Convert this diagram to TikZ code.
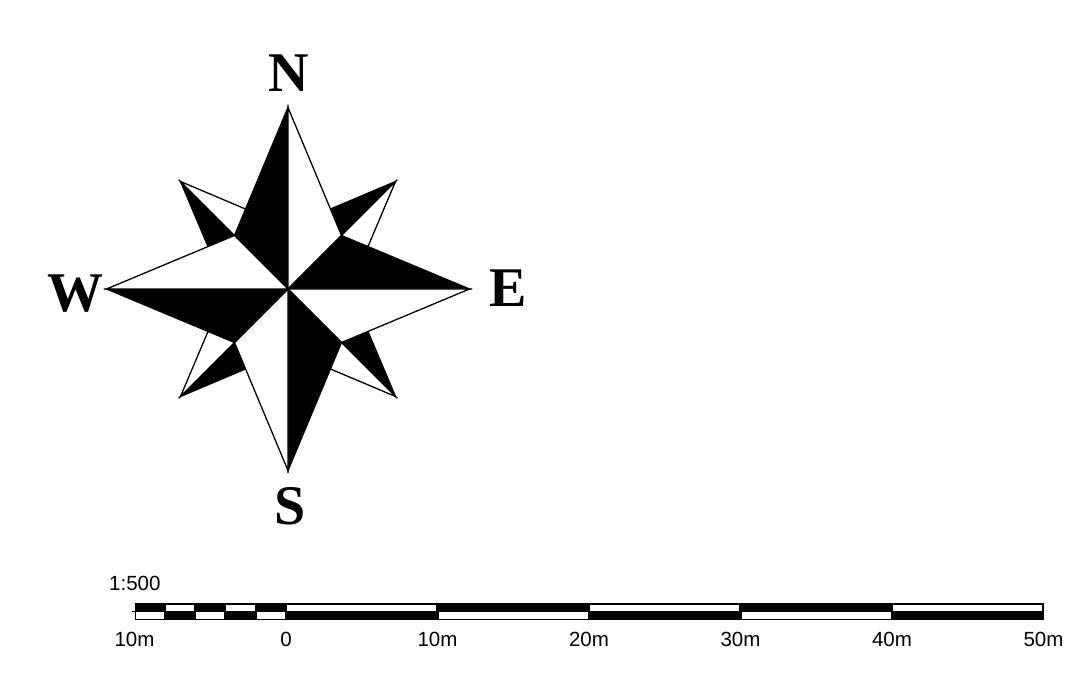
\documentclass[tikz,border=0pt]{standalone}
\usepackage{fontspec}
\setmainfont{Liberation Serif}
\newfontfamily\labsans{Liberation Sans}
\begin{document}
\begin{tikzpicture}[x=1pt,y=-1pt,
  blk/.style={fill=black,draw=black,line width=1.3pt,line join=miter},
  wht/.style={fill=white,draw=black,line width=1.3pt,line join=miter},
  dirlab/.style={font=\fontsize{56}{60}\selectfont\bfseries,inner sep=0pt,anchor=base},
  scalelab/.style={font=\labsans\fontsize{20.5}{24}\selectfont,inner sep=0pt,anchor=base},
  cellw/.style={fill=white,draw=none}]
\useasboundingbox (0,0) rectangle (1079,700);
% centre and points
\coordinate (O) at (288,289);
\coordinate (N) at (288,107.5);
\coordinate (E) at (469.5,289);
\coordinate (S) at (288,470.5);
\coordinate (W) at (106.5,289);
\coordinate (NE) at (341.5,235.5);
\coordinate (SE) at (341.5,342.5);
\coordinate (SW) at (234.5,342.5);
\coordinate (NW) at (234.5,235.5);
\coordinate (dNE) at (395.5,181.5);
\coordinate (dSE) at (395.5,396.5);
\coordinate (dSW) at (180.5,396.5);
\coordinate (dNW) at (180.5,181.5);
\coordinate (iN) at (288,227);
\coordinate (iE) at (350,289);
\coordinate (iS) at (288,351);
\coordinate (iW) at (226,289);
% diagonal star
\draw[blk] (O) -- (dNE) -- (iN) -- cycle;
\draw[wht] (O) -- (dNE) -- (iE) -- cycle;
\draw[blk] (O) -- (dSE) -- (iE) -- cycle;
\draw[wht] (O) -- (dSE) -- (iS) -- cycle;
\draw[blk] (O) -- (dSW) -- (iS) -- cycle;
\draw[wht] (O) -- (dSW) -- (iW) -- cycle;
\draw[blk] (O) -- (dNW) -- (iW) -- cycle;
\draw[wht] (O) -- (dNW) -- (iN) -- cycle;
% main star
\draw[blk] (O) -- (N) -- (NW) -- cycle;
\draw[wht] (O) -- (N) -- (NE) -- cycle;
\draw[blk] (O) -- (E) -- (NE) -- cycle;
\draw[wht] (O) -- (E) -- (SE) -- cycle;
\draw[blk] (O) -- (S) -- (SE) -- cycle;
\draw[wht] (O) -- (S) -- (SW) -- cycle;
\draw[blk] (O) -- (W) -- (SW) -- cycle;
\draw[wht] (O) -- (W) -- (NW) -- cycle;
% direction letters
\node[dirlab] (lN) at (288.5,92) {N};
\node[dirlab] (lE) at (508,307) {E};
\node[dirlab] (lS) at (290,524) {S};
\node[dirlab] (lW) at (75,312) {W};
% scale bar
\node[scalelab,anchor=base west] (ratio) at (109,590) {1:500};
\fill[black] (134.5,603.3) rectangle (1043.5,620.3);
\draw[line width=1pt] (131.5,611.7) -- (134.5,611.7);
% top row white cells
\fill[cellw] (165.8,604.6) rectangle (194.1,611.0);
\fill[cellw] (226.4,604.6) rectangle (254.7,611.0);
\fill[cellw] (287.2,604.6) rectangle (436.4,611.0);
\fill[cellw] (590.2,604.6) rectangle (739.4,611.0);
\fill[cellw] (893.2,604.6) rectangle (1042.2,611.0);
% bottom row white cells
\fill[cellw] (135.8,612.4) rectangle (163.8,619.0);
\fill[cellw] (196.1,612.4) rectangle (224.4,619.0);
\fill[cellw] (256.7,612.4) rectangle (285.0,619.0);
\fill[cellw] (438.7,612.4) rectangle (587.9,619.0);
\fill[cellw] (741.7,612.4) rectangle (890.9,619.0);
% labels
\node[scalelab] (m10) at (134.5,646.5) {10m};
\node[scalelab] (z0) at (286,646.5) {0};
\node[scalelab] (p10) at (437.5,646.5) {10m};
\node[scalelab] (p20) at (589,646.5) {20m};
\node[scalelab] (p30) at (740.5,646.5) {30m};
\node[scalelab] (p40) at (892,646.5) {40m};
\node[scalelab] (p50) at (1043.5,646.5) {50m};
\end{tikzpicture}
\end{document}
